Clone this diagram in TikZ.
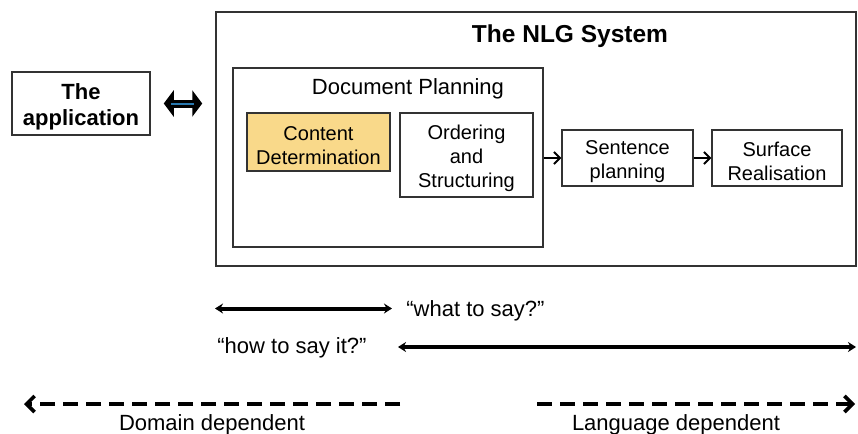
\documentclass[tikz,border=0pt]{standalone}
\usepackage{fontspec}
\setmainfont{Liberation Sans}
\usetikzlibrary{arrows.meta}
\definecolor{cdfill}{RGB}{249,217,138}
\definecolor{linkblue}{RGB}{40,120,175}
\newcommand{\topstrut}[1]{\rule{0pt}{#1}}

\begin{document}
\begin{tikzpicture}[x=0.5pt, y=-0.5pt,
		box/.style={draw=black!80, line width=0.75pt, inner sep=0pt, align=center, font=\fontsize{10}{12}\selectfont},
		txt/.style={inner sep=0pt, font=\fontsize{11}{13}\selectfont},
		span/.style={line width=2pt, {Stealth[length=4pt,width=5pt]}-{Stealth[length=4pt,width=5pt]}},
		dep/.style={line width=1.8pt, dash pattern=on 7.5pt off 4pt},
		step arrow/.style={line width=0.9pt, -{Straight Barb[length=3pt,width=6pt]}}]
				\useasboundingbox (0,0) rectangle (858,434);
				
				% the two outer boxes
				\node[box, minimum width=69pt, minimum height=31.5pt, font=\bfseries\fontsize{11}{13}\selectfont] (app) at (81, 103.5) {\topstrut{11pt}The\\application};
				\node[box, minimum width=320pt, minimum height=127pt] (sys) at (536, 139) {};
				\node[txt, font=\bfseries\fontsize{12.25}{14}\selectfont] (systitle) at (570, 36.5) {The NLG System};
				
				% document planning
				\node[box, minimum width=155pt, minimum height=89.5pt] (docplan) at (388, 157.5) {};
				\node[txt] (doctitle) at (408, 89) {Document Planning};
				\node[box, fill=cdfill, minimum width=71.5pt, minimum height=29pt] (content) at (318.5, 142) {\topstrut{10.5pt}Content\\Determination};
				\node[box, minimum width=66.5pt, minimum height=42pt] (ordering) at (466.5, 155) {\topstrut{10.5pt}Ordering\\and\\Structuring};
				
				% later stages
				\node[box, minimum width=65.5pt, minimum height=28pt] (sentence) at (627.5, 158) {\topstrut{10.5pt}Sentence\\planning};
				\node[box, minimum width=65pt, minimum height=28pt] (surface) at (777, 158) {\topstrut{10.5pt}Surface\\Realisation};
				
				\draw[step arrow] (docplan.east |- sentence) -- (sentence);
				\draw[step arrow] (sentence) -- (surface);
				
				% application <-> system
				\draw[line width=4pt, shorten <=6.5pt, shorten >=6.5pt, {Triangle[length=5pt,width=13pt]}-{Triangle[length=5pt,width=13pt]}] (app.east) -- (app.east -| sys.west);
				\draw[linkblue, line width=1pt, shorten <=10pt, shorten >=10.5pt] (app.east) -- (app.east -| sys.west);
				
				% what / how
				\coordinate (what1) at (215, 308.5);
				\coordinate (what2) at (392, 308.5);
				\draw[span] (what1) -- (what2);
				\node[txt, anchor=west] (what) at (406, 310.5) {“what to say?”};
				
				\node[txt] (how) at (292, 347.5) {“how to say it?”};
				\coordinate (how1) at (398, 347);
				\coordinate (how2) at (856, 347);
				\draw[span] (how1) -- (how2);
				
				% dependence
				\coordinate (dom1) at (400, 404);
				\coordinate (dom2) at (24, 404);
				\draw[dep, -{Straight Barb[length=4pt,width=8pt]}] (dom1) -- (dom2);
				\node[txt] (domain) at (212, 424.5) {Domain dependent};
				
				\coordinate (lang1) at (537, 404);
				\coordinate (lang2) at (855, 404);
				\draw[dep, -{Straight Barb[length=4pt,width=8pt]}] (lang1) -- (lang2);
				\node[txt] (language) at (676, 424.5) {Language dependent};
\end{tikzpicture}
\end{document}
